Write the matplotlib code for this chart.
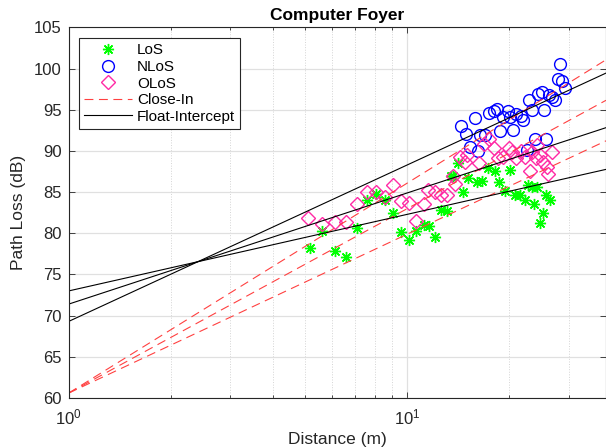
'''
Path loss scatter with close-in and float-intercept fits (Computer Foyer)
'''
import math
import matplotlib
matplotlib.use('Agg')
import matplotlib.pyplot as plt
from matplotlib.ticker import LogLocator, NullFormatter

# LoS measurements (distance m, path loss dB)
los_d = [5.15, 5.6, 6.1, 6.6, 7.1, 7.6, 8.1, 8.6, 9.1, 9.6, 10.1, 10.6, 11.2, 11.6,
         12.1, 12.6, 13.1, 13.5, 13.6, 14.1, 14.6, 15.1, 16.1, 16.6, 17.3, 18.1,
         18.6, 19.4, 20.1, 20.8, 21.5, 22.2, 22.7, 23.4, 23.7, 24.2, 24.6, 25.2,
         25.7, 26.3]
los_pl = [78.2, 80.3, 77.9, 77.1, 80.6, 84.0, 84.8, 84.0, 82.5, 80.1, 79.2, 80.3, 81.0, 80.9,
          79.6, 82.8, 82.7, 86.9, 87.0, 88.5, 85.0, 86.7, 86.2, 86.4, 87.9, 87.6,
          86.2, 85.1, 87.7, 84.7, 84.7, 84.0, 85.8, 85.6, 83.5, 85.6, 81.3, 82.5,
          84.6, 84.0]

# NLoS measurements
nlos_d = [14.4, 14.9, 15.3, 15.8, 16.2, 16.4, 17.0, 17.4, 18.0, 18.4, 18.8, 19.2,
          19.8, 20.1, 20.5, 21.0, 21.6, 22.0, 22.5, 22.9, 23.4, 23.9, 24.3, 24.9,
          25.4, 25.7, 26.2, 26.8, 27.2, 27.8, 28.2, 28.6, 29.2]
nlos_pl = [93.0, 92.1, 90.5, 94.0, 90.0, 91.9, 91.9, 94.6, 94.9, 95.1, 92.4, 94.1,
           94.8, 94.1, 92.5, 94.5, 94.2, 93.7, 90.1, 96.2, 95.0, 91.5, 96.9, 97.2,
           95.0, 91.4, 96.8, 96.5, 96.2, 98.7, 100.5, 98.5, 97.6]

# OLoS measurements
olos_d = [5.1, 5.6, 6.1, 6.6, 7.1, 7.6, 8.1, 8.6, 9.1, 9.6, 10.1, 10.6, 11.2, 11.5,
          12.1, 12.6, 13.1, 13.6, 13.8, 14.3, 14.8, 15.0, 16.3, 16.8, 17.4, 18.0,
          18.5, 19.1, 20.0, 20.4, 20.9, 21.6, 22.2, 23.1, 23.4, 24.0, 24.1, 24.6,
          25.2, 25.8, 26.1, 26.7]
olos_pl = [81.9, 81.1, 81.4, 81.4, 83.5, 85.0, 85.0, 84.4, 85.9, 83.9, 83.7, 81.5, 83.5, 85.2,
           85.0, 84.6, 84.6, 86.9, 86.0, 89.2, 88.6, 89.5, 88.5, 90.8, 91.4, 90.3,
           89.1, 89.3, 90.4, 89.9, 89.1, 90.0, 89.3, 87.5, 89.9, 89.1, 90.7, 89.5,
           88.7, 88.0, 87.2, 89.9]

# Close-In model: FSPL at 1 m plus PLE for LoS, OLoS, NLoS
ci_fspl = 60.6
ci_ple = [1.93, 2.24, 2.55]

# Float-Intercept model: intercept (dB) and slope (dB/decade) for LoS, OLoS, NLoS
fi_alpha = [73.0, 71.4, 69.3]
fi_beta = [9.3, 13.5, 19.0]

x_limits = (1, 38.6)


def plot_path_loss() -> None:
    '''
    Draw the path loss chart and save it to out.png
    '''
    plt.rcParams['font.family'] = ['Liberation Sans', 'DejaVu Sans']
    text_color = '#262626'

    fig = plt.figure(figsize=(6.06, 4.48), dpi=100)
    ax = fig.add_axes([0.1134, 0.1116, 0.8866, 0.8274])
    ax.set_xscale('log')

    # Measurements (MATLAB-style 8-arm asterisk for LoS)
    ax.plot(los_d, los_pl, linestyle='none', marker=(8, 2, 0), markersize=8,
            color='#00ff00', markeredgewidth=1.0, label='LoS')
    ax.plot(nlos_d, nlos_pl, linestyle='none', marker='o', markersize=8.5,
            color='#0000ff', markerfacecolor='none', markeredgewidth=1.0, label='NLoS')
    ax.plot(olos_d, olos_pl, linestyle='none', marker='D', markersize=7.5,
            color='#ff2aa5', markerfacecolor='none', markeredgewidth=1.0, label='OLoS')

    # Model lines (straight on a log-x axis, so two end points are enough)
    log_end = math.log10(x_limits[1])
    for i, n in enumerate(ci_ple):
        pl = [ci_fspl, ci_fspl + 10 * n * log_end]
        ax.plot(x_limits, pl, color='#ff4040', linewidth=0.8, dashes=(8, 5),
                label='Close-In' if i == 0 else None)
    for i, (a, b) in enumerate(zip(fi_alpha, fi_beta)):
        pl = [a, a + b * log_end]
        ax.plot(x_limits, pl, color='black', linewidth=0.8,
                label='Float-Intercept' if i == 0 else None)

    # Axes formatting
    ax.set_xlim(*x_limits)
    ax.set_ylim(60, 105)
    ax.set_yticks(range(60, 106, 5))
    ax.xaxis.set_minor_locator(LogLocator(base=10, subs=range(2, 10)))
    ax.xaxis.set_minor_formatter(NullFormatter())
    ax.grid(True, which='major', color='#e0e0e0', linewidth=0.9, linestyle='-')
    ax.grid(True, which='minor', axis='x', color='#d4d4d4', linewidth=0.7, linestyle=':')
    ax.set_axisbelow(True)
    ax.tick_params(which='both', direction='in', top=True, right=True,
                   labelsize=12, colors=text_color, width=0.6)
    ax.tick_params(axis='x', which='major', pad=6.5)
    ax.tick_params(axis='y', which='major', pad=5)
    ax.tick_params(which='major', length=4)
    ax.tick_params(which='minor', length=2.5)
    for spine in ax.spines.values():
        spine.set_color(text_color)
        spine.set_linewidth(0.8)

    ax.set_xlabel('Distance (m)', fontsize=12.5, color=text_color, labelpad=4)
    ax.set_ylabel('Path Loss (dB)', fontsize=12.5, color=text_color, labelpad=6)
    ax.set_title('Computer Foyer', fontsize=12.5, fontweight='bold', pad=5)

    leg = ax.legend(loc='upper left', bbox_to_anchor=(0.019, 0.971), borderaxespad=0,
                    fontsize=11, handlelength=3.1, handletextpad=0.35,
                    labelspacing=0.17, fancybox=False, framealpha=1,
                    edgecolor=text_color, borderpad=0.35)
    leg.get_frame().set_linewidth(0.8)

    fig.savefig('out.png', dpi=100)


if __name__ == '__main__':
    plot_path_loss()
